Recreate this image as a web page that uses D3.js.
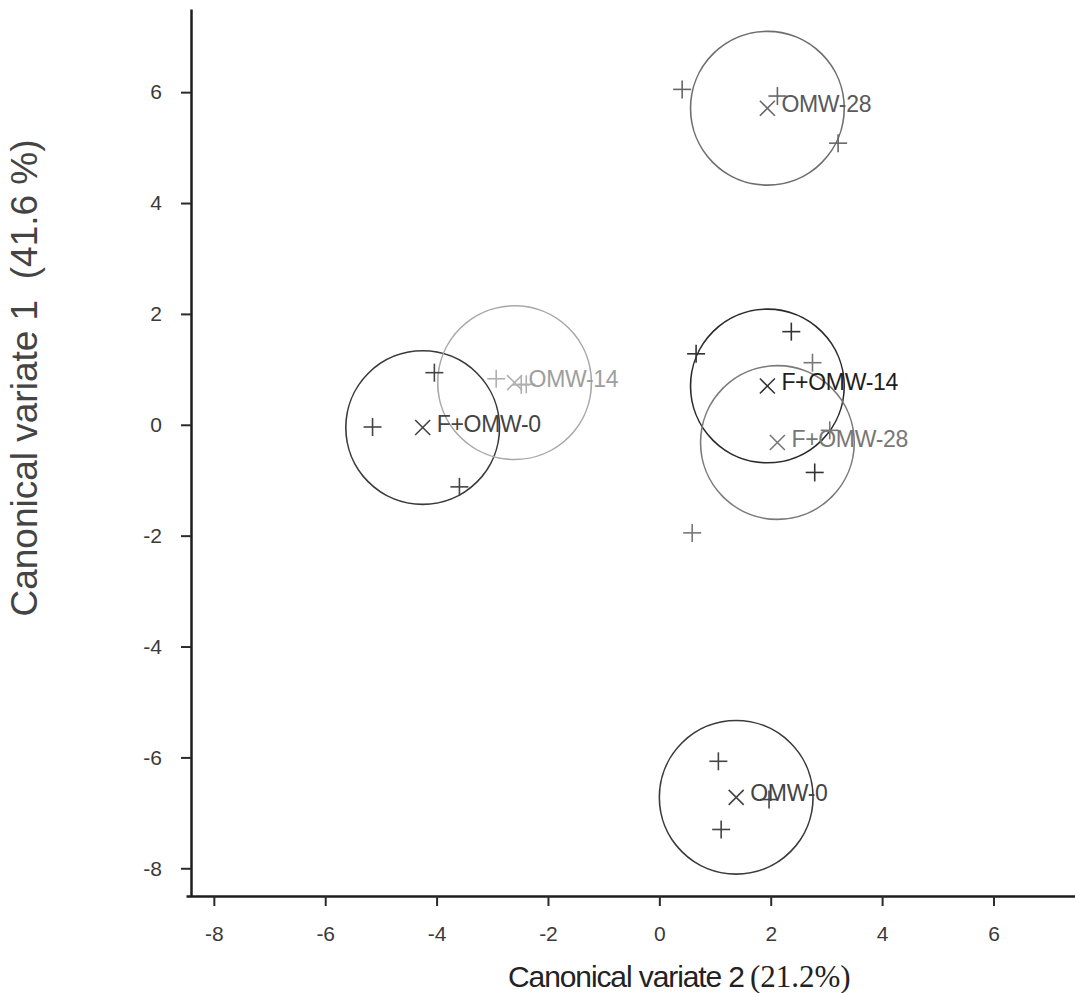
<!DOCTYPE html>
<html>
<head>
<meta charset="utf-8">
<script src="https://cdn.jsdelivr.net/npm/d3@7"></script>
<style>
    body { margin: 0; background: #fff; }
    svg { display: block; }
    .axis text { font-family: "Liberation Sans", Arial, sans-serif; font-size: 21px; fill: #3a3a3a; }
    .axis path { stroke: #1e1e1e; stroke-width: 2.5; }
    .axis line { stroke: #2a2a2a; stroke-width: 2; }
    .group-label { font-family: "Liberation Sans", Arial, sans-serif; font-size: 23px; letter-spacing: -0.3px; }
</style>
</head>
<body>
<div id="chart"></div>
<script>

// group means (centre of each circle)
var groups = ["F+OMW-0", "OMW-14", "OMW-28", "F+OMW-14", "F+OMW-28", "OMW-0"]
var meanX = [-4.25, -2.60, 1.94, 1.94, 2.12, 1.38]
var meanY = [-0.05, 0.76, 5.71, 0.70, -0.32, -6.72]

// replicate scores
var repGroup = ["F+OMW-0", "F+OMW-0", "F+OMW-0",
                "OMW-14", "OMW-14", "OMW-14",
                "OMW-28", "OMW-28", "OMW-28",
                "F+OMW-14", "F+OMW-14", "F+OMW-14",
                "F+OMW-28", "F+OMW-28", "F+OMW-28",
                "OMW-0", "OMW-0", "OMW-0"]
var repX = [-5.15, -4.04, -3.59,
            -2.93, -2.48, -2.39,
             0.41, 2.12, 3.21,
             2.37, 0.66, 2.79,
             2.75, 0.59, 3.06,
             1.06, 1.11, 1.97]
var repY = [-0.04, 0.94, -1.12,
             0.83, 0.72, 0.73,
             6.05, 5.93, 5.08,
             1.68, 1.28, -0.86,
             1.12, -1.95, -0.10,
            -6.07, -7.30, -6.76]

// radius of the confidence circles, in canonical-variate units
var circleRadius = 1.38

var xTicks = [-8, -6, -4, -2, 0, 2, 4, 6]
var yTicks = [-8, -6, -4, -2, 0, 2, 4, 6]
var xDomain = [-8.5, 7.5],
    yDomain = [-8.5, 7.5]

var xTitle = "Canonical variate 2",
    xTitlePct = "(21.2%)",
    yTitle = "Canonical variate 1  (41.6 %)"

var width = 1075,
    height = 993

var svg = d3.select("#chart")
    .append("svg")
        .attr("width", width)
        .attr("height", height)

var x = d3.scaleLinear()
    .domain(xDomain)
    .range([186, 1077])

var y = d3.scaleLinear()
    .domain(yDomain)
    .range([896, 9])

var circleColor = d3.scaleOrdinal()
    .domain(groups)
    .range(["#3a3a3a", "#a8a8a8", "#6e6e6e", "#2a2a2a", "#7a7a7a", "#3a3a3a"])

var labelColor = d3.scaleOrdinal()
    .domain(groups)
    .range(["#444", "#9e9e9e", "#5a5a5a", "#1e1e1e", "#777", "#444"])

var markColor = d3.scaleOrdinal()
    .domain(groups)
    .range(["#444", "#b0b0b0", "#666", "#333", "#777", "#444"])

function drawAxes(){
    var xAxis = d3.axisBottom(x)
        .tickValues(xTicks)
        .tickSizeInner(10)
        .tickSizeOuter(0)
        .tickPadding(20)
        .tickFormat(d3.format("d"))

    var yAxis = d3.axisLeft(y)
        .tickValues(yTicks)
        .tickSizeInner(10)
        .tickSizeOuter(0)
        .tickPadding(19)
        .tickFormat(d3.format("d"))

    svg.append("g")
        .attr("class", "axis axis--x")
        .attr("transform", "translate(0," + y(yDomain[0]) + ")")
        .call(xAxis)

    svg.append("g")
        .attr("class", "axis axis--y")
        .attr("transform", "translate(" + 191 + ",0)")
        .call(yAxis)

    // d3 uses a unicode minus, the original shows a hyphen
    svg.selectAll(".axis text").text(function(d){ return String(d) })

    svg.append("text")
        .attr("x", 508)
        .attr("y", 987)
        .attr("fill", "#222")
        .style("font-family", "Liberation Sans, Arial, sans-serif")
        .style("font-size", "30px")
        .style("letter-spacing", "-1.1px")
        .text(xTitle)
        .append("tspan")
            .attr("dx", 6)
            .style("font-family", "Liberation Serif, Times New Roman, serif")
            .style("font-size", "31px")
            .style("letter-spacing", "0px")
            .text(xTitlePct)

    svg.append("text")
        .attr("transform", "translate(37," + 378 + ") rotate(-90)")
        .attr("text-anchor", "middle")
        .attr("fill", "#444")
        .style("font-family", "Liberation Sans, Arial, sans-serif")
        .style("font-size", "37px")
        .style("white-space", "pre")
        .text(yTitle)
}

function drawGroups(){
    var means = groups.map(function(g, i){
        return {name: g, x: meanX[i], y: meanY[i]}
    })
    var reps = repGroup.map(function(g, i){
        return {name: g, x: repX[i], y: repY[i]}
    })

    var r = x(circleRadius) - x(0)
    var plus = 9,
        cross = 7.5

    var plot = svg.append("g").attr("class", "plot")

    plot.selectAll(".conf-circle")
        .data(means)
        .enter()
        .append("circle")
            .attr("class", "conf-circle")
            .attr("cx", d=> x(d.x))
            .attr("cy", d=> y(d.y))
            .attr("r", r)
            .attr("fill", "none")
            .attr("stroke", d=> circleColor(d.name))
            .attr("stroke-width", 1.6)

    var reps_g = plot.selectAll(".rep")
        .data(reps)
        .enter()
        .append("g")
            .attr("class", "rep")
            .attr("transform", d=> "translate(" + x(d.x) + "," + y(d.y) + ")")
            .attr("stroke", d=> markColor(d.name))
            .attr("stroke-width", 1.6)

    reps_g.append("line")
        .attr("x1", -plus).attr("x2", plus)
        .attr("y1", 0).attr("y2", 0)
    reps_g.append("line")
        .attr("x1", 0).attr("x2", 0)
        .attr("y1", -plus).attr("y2", plus)

    var mean_g = plot.selectAll(".mean")
        .data(means)
        .enter()
        .append("g")
            .attr("class", "mean")
            .attr("transform", d=> "translate(" + x(d.x) + "," + y(d.y) + ")")
            .attr("stroke", d=> markColor(d.name))
            .attr("stroke-width", 1.6)

    mean_g.append("line")
        .attr("x1", -cross).attr("y1", -cross)
        .attr("x2", cross).attr("y2", cross)
    mean_g.append("line")
        .attr("x1", -cross).attr("y1", cross)
        .attr("x2", cross).attr("y2", -cross)

    plot.selectAll(".group-label")
        .data(means)
        .enter()
        .append("text")
            .attr("class", "group-label")
            .attr("x", d=> x(d.x) + 14)
            .attr("y", d=> y(d.y) + 4)
            .attr("fill", d=> labelColor(d.name))
            .text(d=> d.name)
}

drawAxes()
drawGroups()

</script>
</body>
</html>
